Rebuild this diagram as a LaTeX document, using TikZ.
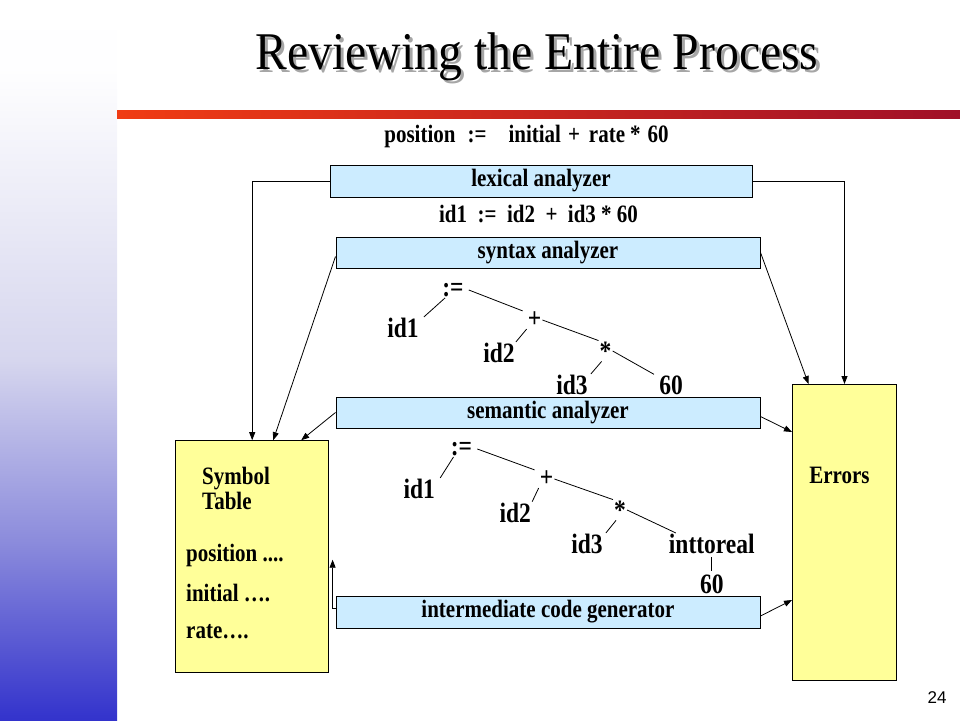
\documentclass[tikz,border=0pt]{standalone}
\usepackage{fontspec}
\setmainfont{Liberation Serif}
\newfontfamily\slidefont[FakeStretch=0.84]{Liberation Serif}
\newfontfamily\headfont[FakeStretch=0.9]{Liberation Serif}
\newfontfamily\numfont{Liberation Sans}
\usetikzlibrary{arrows.meta}
\definecolor{boxblue}{RGB}{204,236,255}
\definecolor{boxyellow}{RGB}{255,255,153}
\definecolor{barblue}{RGB}{51,51,204}
\definecolor{barlow}{RGB}{140,140,220}
\definecolor{barmid}{RGB}{214,214,238}
\definecolor{redleft}{RGB}{240,60,20}
\definecolor{redright}{RGB}{160,16,40}
\pgfdeclareverticalshading{sidebar}{100bp}{color(0bp)=(barblue); color(25bp)=(barblue);
  color(37.5bp)=(barlow); color(50bp)=(barmid); color(70bp)=(white!97!barmid); color(75bp)=(white); color(100bp)=(white)}
\tikzset{
  phase/.style={draw,line width=1pt,fill=boxblue,minimum width=424pt,minimum height=31pt,
    inner sep=0pt,font=\slidefont\fontsize{25}{25}\selectfont\bfseries},
  store/.style={draw,line width=1pt,fill=boxyellow,inner sep=0pt},
  lbl/.style={font=\slidefont\fontsize{25}{25}\selectfont\bfseries,inner sep=1pt},
  tree/.style={font=\slidefont\fontsize{28}{28}\selectfont\bfseries,inner sep=1pt},
  arr/.style={line width=0.8pt,-{Triangle[length=8pt,width=6pt]}},
  branch/.style={line width=0.8pt}
}
\begin{document}
\begin{tikzpicture}[x=1pt,y=-1pt]
  \useasboundingbox (0,0) rectangle (960,720);
  \shade[shading=sidebar] (0,0) rectangle (117,720);
  \shade[left color=redleft,right color=redright] (117,110) rectangle (960,118);

  \node[text=black!35,font=\headfont\fontsize{53}{55}\selectfont] (titleshadow) at (540,60) {Reviewing the Entire Process};
  \node[font=\headfont\fontsize{53}{55}\selectfont] (title) at (537,57) {Reviewing the Entire Process};

  \node[lbl] (source) at (526.5,136) {position\hspace{12pt}:=\hspace{22pt}initial\hspace{7pt}+\hspace{9pt}rate\hspace{5pt}*\hspace{7pt}60};
  \node[phase,minimum width=422pt,minimum height=32pt] (lex) at (541,181) {lexical analyzer};
  \node[lbl] (tokens) at (538.5,214) {id1\ \ :=\ \ id2\ \ +\ \ id3 * 60};
  \node[phase] (syn) at (548,252.5) {syntax analyzer};
  \node[phase] (sem) at (548,412.5) {semantic analyzer};
  \node[phase,minimum height=32pt] (icg) at (548,612) {intermediate code generator};

  \node[store,minimum width=153pt,minimum height=232pt] (symtab) at (252.2,556.7) {};
  \node[store,minimum width=104pt,minimum height=296pt] (errors) at (844.5,532.5) {};
  \node[lbl,anchor=west,align=left] (stname) at (201,488) {Symbol\\Table};
  \node[lbl,anchor=west] (stpos) at (185,555.7) {position ....};
  \node[lbl,anchor=west] (stinit) at (185,593.3) {initial \dots.};
  \node[lbl,anchor=west] (strate) at (185,631.7) {rate\dots.};
  \node[lbl] (errlabel) at (839.5,475.7) {Errors};

  % syntax tree
  \node[tree] (t1asg) at (453,290) {:=};
  \node[tree] (t1id1) at (403,328) {id1};
  \node[tree] (t1plus) at (534.5,320) {+};
  \node[tree] (t1id2) at (499,353) {id2};
  \node[tree] (t1mul) at (605.6,351) {*};
  \node[tree] (t1id3) at (572,385) {id3};
  \node[tree] (t1num) at (671,385) {60};
  \draw[branch] ([xshift=-8pt]t1asg.south) -- ([xshift=4pt]t1id1.north east);
  \draw[branch] ([xshift=4pt]t1asg.east) -- ([xshift=-4pt]t1plus.north west);
  \draw[branch] (t1plus.south west) -- (t1id2.north east);
  \draw[branch] (t1plus.east) -- (t1mul.north west);
  \draw[branch] ([xshift=-4pt]t1mul.south) -- ([xshift=2pt]t1id3.north east);
  \draw[branch] (t1mul.east) -- ([xshift=-4pt]t1num.north west);

  % annotated tree
  \node[tree] (t2asg) at (461.5,449) {:=};
  \node[tree] (t2id1) at (419.3,489) {id1};
  \node[tree] (t2plus) at (546.5,479) {+};
  \node[tree] (t2id2) at (515.3,512.7) {id2};
  \node[tree] (t2mul) at (620,510) {*};
  \node[tree] (t2id3) at (587,544) {id3};
  \node[tree] (t2conv) at (711.8,544) {inttoreal};
  \node[tree] (t2num) at (711.8,584) {60};
  \draw[branch] ([xshift=-8pt]t2asg.south) -- ([xshift=4pt]t2id1.north east);
  \draw[branch] ([xshift=4pt]t2asg.east) -- ([xshift=-4pt]t2plus.north west);
  \draw[branch] (t2plus.south west) -- (t2id2.north east);
  \draw[branch] (t2plus.east) -- (t2mul.north west);
  \draw[branch] ([xshift=-4pt]t2mul.south) -- ([xshift=2pt]t2id3.north east);
  \draw[branch] (t2mul.east) -- ([xshift=-36pt]t2conv.north);
  \draw[branch] ([yshift=-2pt]t2conv.south) -- ([yshift=2pt]t2num.north);

  % connectors
  \draw[arr] (lex.west) -| (symtab.north);
  \draw[arr] (lex.east) -| (errors.north);
  \draw[arr] ([yshift=-4pt]syn.west) -- ([xshift=21pt]symtab.north);
  \draw[arr] (syn.east) -- ([xshift=-36pt]errors.north);
  \draw[arr] (sem.west) -- ([xshift=49pt]symtab.north);
  \draw[arr] ([yshift=-4pt]sem.east) -- ([yshift=-48pt]errors.north west);
  \draw[arr] ([yshift=-4pt]icg.east) -- ([yshift=-216pt]errors.north west);
  \draw[arr] ([yshift=4pt]icg.west) -| ([xshift=3.4pt,yshift=-3pt]symtab.east);

  \node[font=\numfont\fontsize{17}{20}\selectfont] (pagenum) at (937,698) {24};
\end{tikzpicture}
\end{document}
